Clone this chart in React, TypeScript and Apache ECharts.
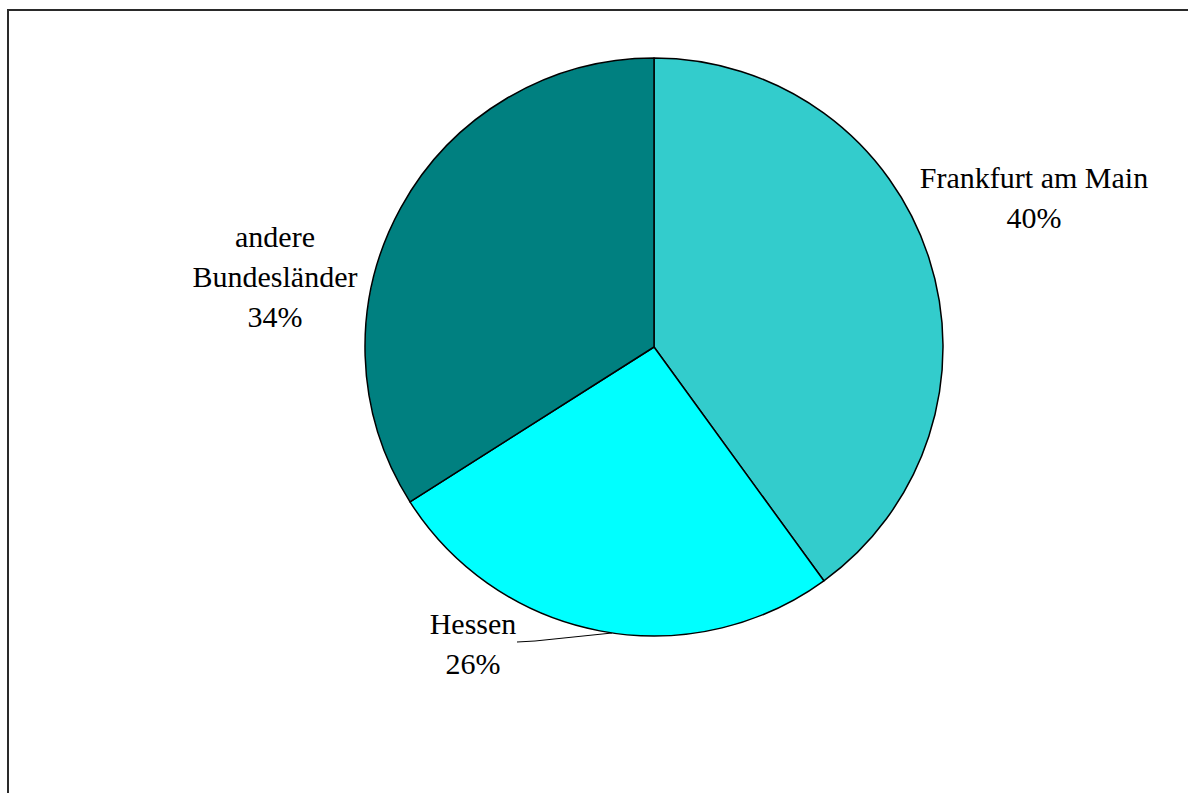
import React, { useEffect, useRef } from "react";
import * as echarts from "echarts";

const categories = ["Frankfurt am Main", "Hessen", "andere\nBundesländer"];
const values = [40, 26, 34];
const colors = ["#33CCCC", "#00FFFF", "#008080"];

export default function App() {
  const ref = useRef<HTMLDivElement>(null);
  useEffect(() => {
    const chart = echarts.init(ref.current!, null, { renderer: "svg" });
    const labelPos: Record<number, [number, number]> = {
      0: [1034, 197],
      1: [473, 643],
      2: [275, 276],
    };
    chart.setOption({
      animation: false,
      backgroundColor: "#ffffff",
      graphic: [
        {
          type: "rect",
          shape: { x: 8, y: 10, width: 1400, height: 1000 },
          style: { fill: "none", stroke: "#2a2a2a", lineWidth: 2 },
          silent: true,
        },
      ],
      series: [
        {
          type: "pie",
          center: [654, 347],
          radius: 289,
          startAngle: 90,
          clockwise: true,
          percentPrecision: 0,
          itemStyle: { borderColor: "#000", borderWidth: 1.5 },
          label: {
            show: true,
            position: "outside",
            formatter: "{b}\n{d}%",
            fontFamily: "Liberation Serif",
            fontSize: 30,
            lineHeight: 40,
            color: "#000",
            align: "center",
            overflow: "none",
            width: 400,
          },
          labelLine: { show: false },
          labelLayout: (params: any) => {
            const p = labelPos[params.dataIndex];
            const out: any = { x: p[0], y: p[1], align: "center", verticalAlign: "middle" };
            if (params.dataIndex === 1) {
              out.labelLinePoints = [
                [517, 642],
                [535, 641],
                [612, 633],
              ];
            }
            return out;
          },
          data: categories.map((c, i) => ({
            name: c,
            value: values[i],
            itemStyle: { color: colors[i] },
            labelLine:
              i === 1
                ? { show: true, lineStyle: { color: "#000", width: 1 }, length: 10, length2: 10 }
                : { show: false },
          })),
        },
      ],
    });
    return () => chart.dispose();
  }, []);
  return (
    <div
      ref={ref}
      style={{ position: "absolute", left: 0, top: 0, width: 1188, height: 793 }}
    />
  );
}
